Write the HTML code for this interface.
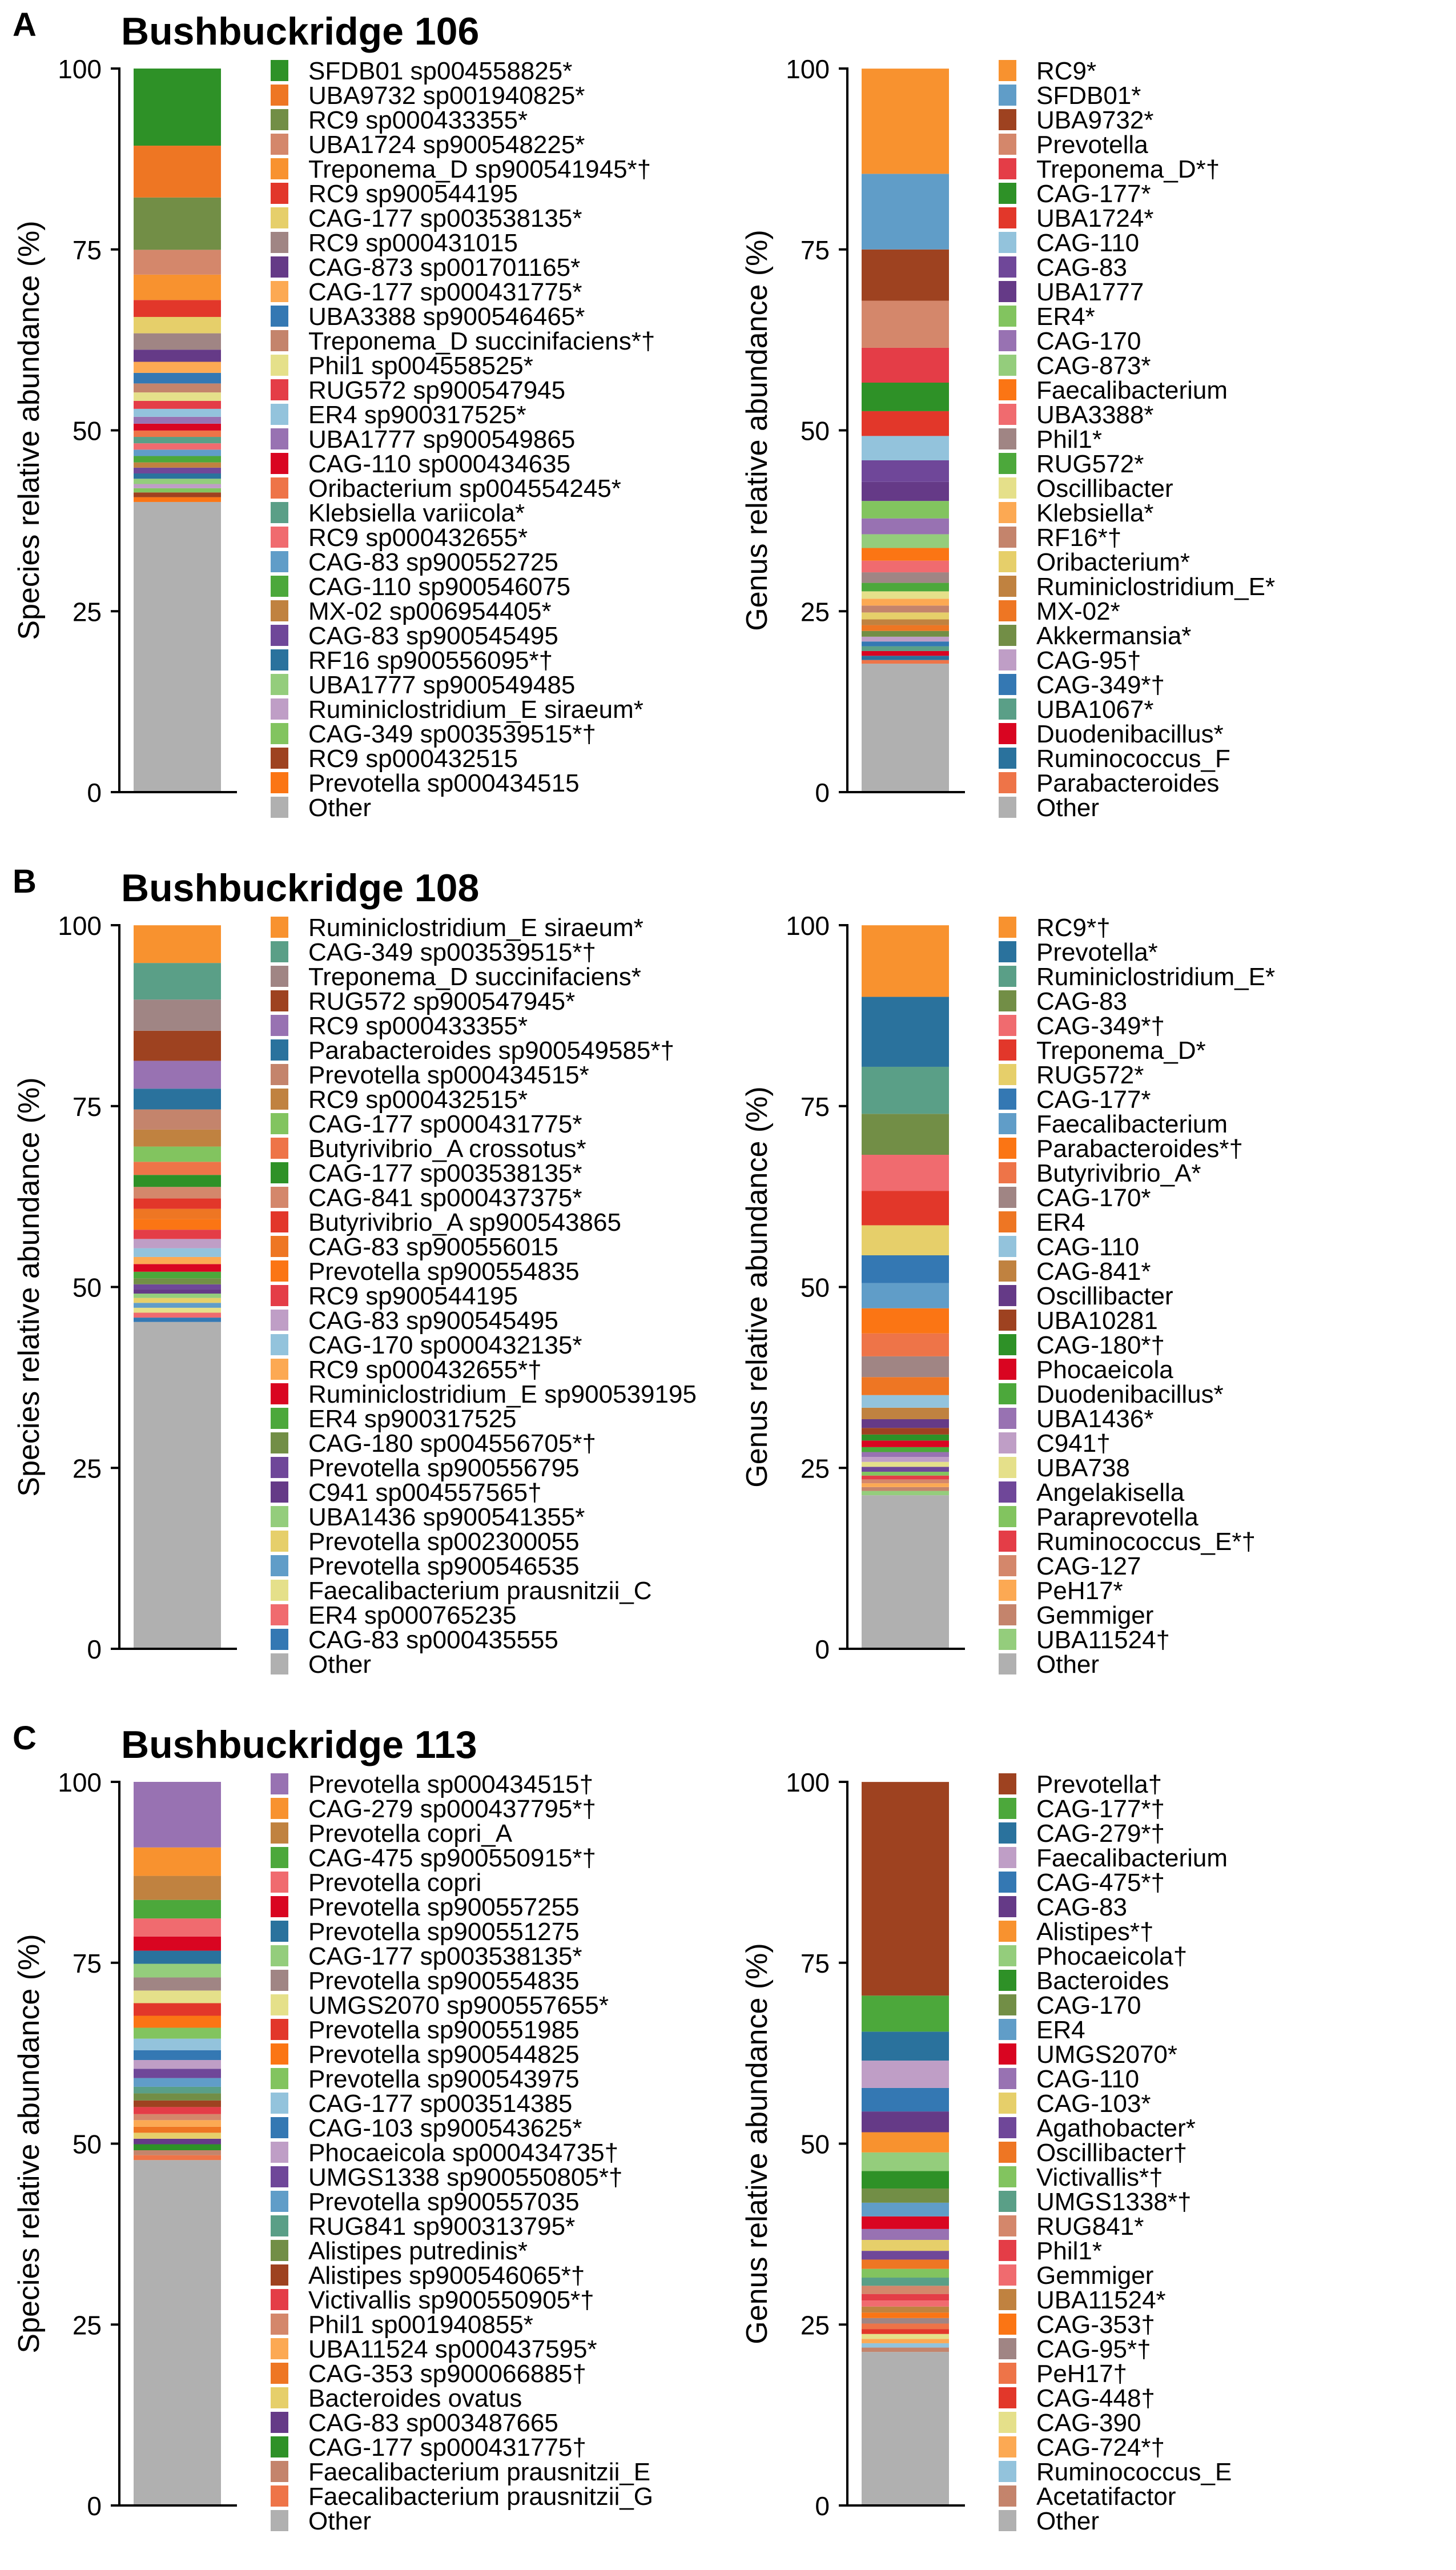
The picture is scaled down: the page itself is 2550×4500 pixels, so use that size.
<!DOCTYPE html>
<html><head><meta charset="utf-8"><style>
html,body{margin:0;padding:0;background:#fff;}
svg{display:block;}
text{font-family:"Liberation Sans",Arial,sans-serif;fill:#000;}
</style></head>
<body>
<svg id="fig" width="2550" height="4500" viewBox="0 0 2550 4500" xmlns="http://www.w3.org/2000/svg"></svg>
<script>
// ---------- Panel A (Bushbuckridge 106) ----------
const aSpeciesLabels = ["SFDB01 sp004558825*","UBA9732 sp001940825*","RC9 sp000433355*","UBA1724 sp900548225*","Treponema_D sp900541945*†","RC9 sp900544195","CAG-177 sp003538135*","RC9 sp000431015","CAG-873 sp001701165*","CAG-177 sp000431775*","UBA3388 sp900546465*","Treponema_D succinifaciens*†","Phil1 sp004558525*","RUG572 sp900547945","ER4 sp900317525*","UBA1777 sp900549865","CAG-110 sp000434635","Oribacterium sp004554245*","Klebsiella variicola*","RC9 sp000432655*","CAG-83 sp900552725","CAG-110 sp900546075","MX-02 sp006954405*","CAG-83 sp900545495","RF16 sp900556095*†","UBA1777 sp900549485","Ruminiclostridium_E siraeum*","CAG-349 sp003539515*†","RC9 sp000432515","Prevotella sp000434515","Other"];
const aSpeciesValues = [10.66,7.16,7.23,3.43,3.51,2.34,2.26,2.26,1.68,1.53,1.46,1.24,1.17,1.10,1.10,0.95,0.95,0.88,0.88,0.88,0.88,0.88,0.73,0.80,0.73,0.73,0.58,0.58,0.66,0.66,40.10];
const aSpeciesColors = ["#2e9127","#ee7623","#728e46","#d4876b","#f8922f","#e2372a","#e6cf6a","#a08584","#653a87","#fca953","#3478b3","#c4846c","#e5e08a","#e43d47","#93c3dc","#9872b2","#d90521","#ee7448","#5a9f87","#f06b6f","#609dc8","#4ca83b","#c08240","#6f4799","#2a729d","#94cd7c","#bf9ec6","#82c45f","#9e4220","#fb7514","#b0b0b0"];

const aGenusLabels = ["RC9*","SFDB01*","UBA9732*","Prevotella","Treponema_D*†","CAG-177*","UBA1724*","CAG-110","CAG-83","UBA1777","ER4*","CAG-170","CAG-873*","Faecalibacterium","UBA3388*","Phil1*","RUG572*","Oscillibacter","Klebsiella*","RF16*†","Oribacterium*","Ruminiclostridium_E*","MX-02*","Akkermansia*","CAG-95†","CAG-349*†","UBA1067*","Duodenibacillus*","Ruminococcus_F","Parabacteroides","Other"];
const aGenusValues = [14.54,10.45,7.09,6.50,4.82,3.94,3.43,3.36,2.99,2.63,2.41,2.19,1.90,1.75,1.61,1.46,1.17,1.02,0.95,0.95,0.95,0.80,0.80,0.80,0.66,0.66,0.66,0.66,0.58,0.51,17.75];
const aGenusColors = ["#f8922f","#609dc8","#9e4220","#d4876b","#e43d47","#2e9127","#e2372a","#93c3dc","#6f4799","#653a87","#82c45f","#9872b2","#94cd7c","#fb7514","#f06b6f","#a08584","#4ca83b","#e5e08a","#fca953","#c4846c","#e6cf6a","#c08240","#ee7623","#728e46","#bf9ec6","#3478b3","#5a9f87","#d90521","#2a729d","#ee7448","#b0b0b0"];

// ---------- Panel B (Bushbuckridge 108) ----------
const bSpeciesLabels = ["Ruminiclostridium_E siraeum*","CAG-349 sp003539515*†","Treponema_D succinifaciens*","RUG572 sp900547945*","RC9 sp000433355*","Parabacteroides sp900549585*†","Prevotella sp000434515*","RC9 sp000432515*","CAG-177 sp000431775*","Butyrivibrio_A crossotus*","CAG-177 sp003538135*","CAG-841 sp000437375*","Butyrivibrio_A sp900543865","CAG-83 sp900556015","Prevotella sp900554835","RC9 sp900544195","CAG-83 sp900545495","CAG-170 sp000432135*","RC9 sp000432655*†","Ruminiclostridium_E sp900539195","ER4 sp900317525","CAG-180 sp004556705*†","Prevotella sp900556795","C941 sp004557565†","UBA1436 sp900541355*","Prevotella sp002300055","Prevotella sp900546535","Faecalibacterium prausnitzii_C","ER4 sp000765235","CAG-83 sp000435555","Other"];
const bSpeciesValues = [5.21,5.06,4.31,4.15,3.85,2.87,2.79,2.34,2.11,1.81,1.66,1.59,1.44,1.44,1.44,1.28,1.28,1.21,0.98,1.06,0.91,0.83,0.68,0.60,0.60,0.68,0.68,0.68,0.68,0.60,45.17];
const bSpeciesColors = ["#f8922f","#5a9f87","#a08584","#9e4220","#9872b2","#2a729d","#c4846c","#c08240","#82c45f","#ee7448","#2e9127","#d4876b","#e2372a","#ee7623","#fb7514","#e43d47","#bf9ec6","#93c3dc","#fca953","#d90521","#4ca83b","#728e46","#6f4799","#653a87","#94cd7c","#e6cf6a","#609dc8","#e5e08a","#f06b6f","#3478b3","#b0b0b0"];

const bGenusLabels = ["RC9*†","Prevotella*","Ruminiclostridium_E*","CAG-83","CAG-349*†","Treponema_D*","RUG572*","CAG-177*","Faecalibacterium","Parabacteroides*†","Butyrivibrio_A*","CAG-170*","ER4","CAG-110","CAG-841*","Oscillibacter","UBA10281","CAG-180*†","Phocaeicola","Duodenibacillus*","UBA1436*","C941†","UBA738","Angelakisella","Paraprevotella","Ruminococcus_E*†","CAG-127","PeH17*","Gemmiger","UBA11524†","Other"];
const bGenusValues = [9.89,9.67,6.50,5.66,4.98,4.76,4.15,3.85,3.47,3.47,3.17,2.87,2.49,1.74,1.59,1.21,0.91,0.83,0.91,0.68,0.68,0.68,0.68,0.68,0.53,0.53,0.53,0.53,0.53,0.60,21.22];
const bGenusColors = ["#f8922f","#2a729d","#5a9f87","#728e46","#f06b6f","#e2372a","#e6cf6a","#3478b3","#609dc8","#fb7514","#ee7448","#a08584","#ee7623","#93c3dc","#c08240","#653a87","#9e4220","#2e9127","#d90521","#4ca83b","#9872b2","#bf9ec6","#e5e08a","#6f4799","#82c45f","#e43d47","#d4876b","#fca953","#c4846c","#94cd7c","#b0b0b0"];

// ---------- Panel C (Bushbuckridge 113) ----------
const cSpeciesLabels = ["Prevotella sp000434515†","CAG-279 sp000437795*†","Prevotella copri_A","CAG-475 sp900550915*†","Prevotella copri","Prevotella sp900557255","Prevotella sp900551275","CAG-177 sp003538135*","Prevotella sp900554835","UMGS2070 sp900557655*","Prevotella sp900551985","Prevotella sp900544825","Prevotella sp900543975","CAG-177 sp003514385","CAG-103 sp900543625*","Phocaeicola sp000434735†","UMGS1338 sp900550805*†","Prevotella sp900557035","RUG841 sp900313795*","Alistipes putredinis*","Alistipes sp900546065*†","Victivallis sp900550905*†","Phil1 sp001940855*","UBA11524 sp000437595*","CAG-353 sp900066885†","Bacteroides ovatus","CAG-83 sp003487665","CAG-177 sp000431775†","Faecalibacterium prausnitzii_E","Faecalibacterium prausnitzii_G","Other"];
const cSpeciesValues = [9.06,3.93,3.32,2.57,2.49,1.96,1.81,1.89,1.81,1.74,1.74,1.66,1.51,1.59,1.36,1.21,1.28,1.21,0.91,0.98,0.91,0.98,0.83,0.91,0.83,0.83,0.76,0.83,0.68,0.68,47.73];
const cSpeciesColors = ["#9872b2","#f8922f","#c08240","#4ca83b","#f06b6f","#d90521","#2a729d","#94cd7c","#a08584","#e5e08a","#e2372a","#fb7514","#82c45f","#93c3dc","#3478b3","#bf9ec6","#6f4799","#609dc8","#5a9f87","#728e46","#9e4220","#e43d47","#d4876b","#fca953","#ee7623","#e6cf6a","#653a87","#2e9127","#c4846c","#ee7448","#b0b0b0"];

const cGenusLabels = ["Prevotella†","CAG-177*†","CAG-279*†","Faecalibacterium","CAG-475*†","CAG-83","Alistipes*†","Phocaeicola†","Bacteroides","CAG-170","ER4","UMGS2070*","CAG-110","CAG-103*","Agathobacter*","Oscillibacter†","Victivallis*†","UMGS1338*†","RUG841*","Phil1*","Gemmiger","UBA11524*","CAG-353†","CAG-95*†","PeH17†","CAG-448†","CAG-390","CAG-724*†","Ruminococcus_E","Acetatifactor","Other"];
const cGenusValues = [29.53,4.98,4.00,3.78,3.25,2.87,2.79,2.57,2.42,1.96,1.89,1.74,1.51,1.51,1.21,1.28,1.21,1.13,1.13,0.91,0.83,0.83,0.76,0.76,0.76,0.68,0.68,0.60,0.60,0.60,21.22];
const cGenusColors = ["#9e4220","#4ca83b","#2a729d","#bf9ec6","#3478b3","#653a87","#f8922f","#94cd7c","#2e9127","#728e46","#609dc8","#d90521","#9872b2","#e6cf6a","#6f4799","#ee7623","#82c45f","#5a9f87","#d4876b","#e43d47","#f06b6f","#c08240","#fb7514","#a08584","#ee7448","#e2372a","#e5e08a","#fca953","#93c3dc","#c4846c","#b0b0b0"];

const panelLetters = ["A","B","C"];
const panelTitles = ["Bushbuckridge 106","Bushbuckridge 108","Bushbuckridge 113"];
const yTicks = [0,25,50,75,100];

const NS = "http://www.w3.org/2000/svg";
const svg = document.getElementById("fig");
function mk(tag, attrs, parent){
  const e = document.createElementNS(NS, tag);
  for (const k in attrs) e.setAttribute(k, attrs[k]);
  (parent||svg).appendChild(e);
  return e;
}

function drawChart(ox, oy, labels, values, colors, yTitle, key){
  const g = mk("g", {});
  
  
  const yTop = oy + 120, yBot = oy + 1387;
  const yScale = v => yBot - v / 100 * (yBot - yTop);
  const axX = ox + 209;
  let cum = 0;
  const n = values.length;
  for (let i = n - 1; i >= 0; i--) {
    const y1 = yScale(cum), y2 = yScale(cum + values[i]);
    const r = mk("rect", {x: ox + 234, y: y2, width: 153, height: Math.max(0, y1 - y2), fill: colors[i]}, g);
    
    
    cum += values[i];
  }
  const ya = mk("line", {x1: axX, y1: yTop - 2, x2: axX, y2: yBot + 2, stroke: "#000", "stroke-width": 4}, g);
  
  
  const xa = mk("line", {x1: axX, y1: yBot, x2: ox + 415, y2: yBot, stroke: "#000", "stroke-width": 4}, g);
  
  
  yTicks.forEach(t => {
    const y = yScale(t);
    const tk = mk("line", {x1: ox + 194, y1: y, x2: axX, y2: y, stroke: "#000", "stroke-width": 4}, g);
    
    
    const tl = mk("text", {x: ox + 178, y: y + 17, "font-size": 46, "text-anchor": "end"}, g);
    tl.textContent = String(t);
    
    
  });
  const cy = (yTop + yBot) / 2;
  const yt = mk("text", {x: ox + 68, y: cy, "font-size": 52, "text-anchor": "middle", transform: `rotate(-90 ${ox + 68} ${cy})`}, g);
  yt.textContent = yTitle;
  
  
  labels.forEach((lab, i) => {
    const top = oy + 105 + i * 43;
    const sw = mk("rect", {x: ox + 474, y: top, width: 31, height: 37, fill: colors[i]}, g);
    
    
    const tx = mk("text", {x: ox + 540, y: top + 34, "font-size": 44}, g);
    tx.textContent = lab;
    
    
  });
}

const sets = [
  [aSpeciesLabels,aSpeciesValues,aSpeciesColors,aGenusLabels,aGenusValues,aGenusColors],
  [bSpeciesLabels,bSpeciesValues,bSpeciesColors,bGenusLabels,bGenusValues,bGenusColors],
  [cSpeciesLabels,cSpeciesValues,cSpeciesColors,cGenusLabels,cGenusValues,cGenusColors]
];
sets.forEach((s, p) => {
  const oy = p * 1500;
  const L = mk("text", {x: 22, y: oy + 63, "font-size": 58, "font-weight": "bold"});
  L.textContent = panelLetters[p];
  
  
  const T = mk("text", {x: 212, y: oy + 78, "font-size": 68, "font-weight": "bold"});
  T.textContent = panelTitles[p];
  
  
  drawChart(0, oy, s[0], s[1], s[2], "Species relative abundance (%)", "species-" + panelLetters[p]);
  drawChart(1275, oy, s[3], s[4], s[5], "Genus relative abundance (%)", "genus-" + panelLetters[p]);
});
</script>
</body></html>
